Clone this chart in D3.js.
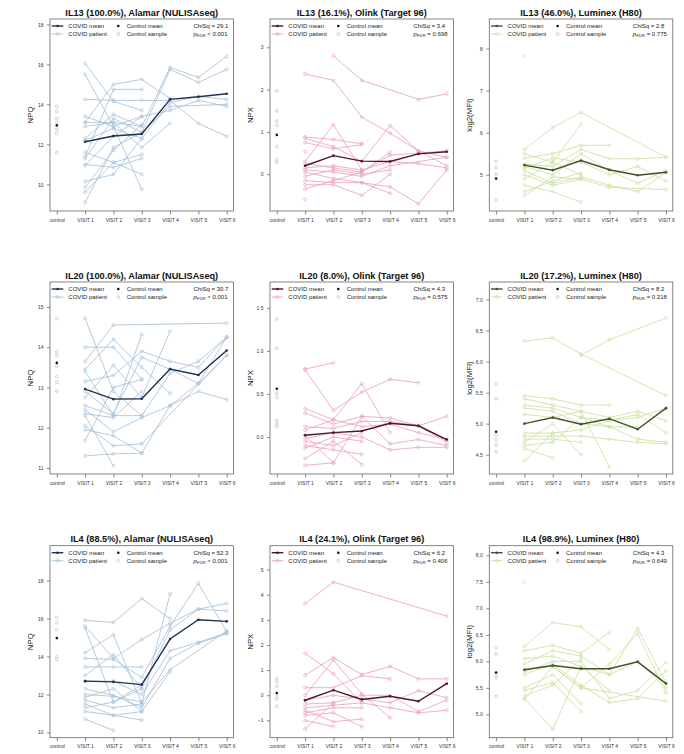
<!DOCTYPE html>
<html>
<head>
<meta charset="utf-8">
<script src="https://cdn.jsdelivr.net/npm/d3@7"></script>
<style>
  body { margin: 0; background: #fff; }
  text { font-family: "Liberation Sans", Arial, Helvetica, sans-serif; }
</style>
</head>
<body>
<svg id="chart" width="684" height="754"></svg>
<script>
// ---- shared axis categories ----
const visitLabels = ["control", "VISIT 1", "VISIT 2", "VISIT 3", "VISIT 4", "VISIT 5", "VISIT 6"];

// ---- panel titles / statistics ----
const titles = [
  "IL13 (100.0%), Alamar (NULISAseq)", "IL13 (16.1%), Olink (Target 96)", "IL13 (46.0%), Luminex (H80)",
  "IL20 (100.0%), Alamar (NULISAseq)", "IL20 (8.0%), Olink (Target 96)", "IL20 (17.2%), Luminex (H80)",
  "IL4 (88.5%), Alamar (NULISAseq)", "IL4 (24.1%), Olink (Target 96)", "IL4 (98.9%), Luminex (H80)"
];
const chiSq = ["29.1", "3.4", "2.8", "30.7", "4.3", "8.2", "52.3", "6.2", "4.3"];
const pFdr = ["< 0.001", "= 0.698", "= 0.775", "< 0.001", "= 0.575", "= 0.318", "< 0.001", "= 0.406", "= 0.649"];
const yTitles = ["NPQ", "NPX", "log2(MFI)"];

// ---- y-axis ticks per panel ----
const yTicks = [
  [10, 12, 14, 16, 18], [0, 1, 2, 3], [5, 6, 7, 8],
  [11, 12, 13, 14, 15], [0, 0.5, 1, 1.5], [4.5, 5, 5.5, 6, 6.5, 7],
  [10, 12, 14, 16, 18], [-1, 0, 1, 2, 3, 4, 5], [5, 5.5, 6, 6.5, 7, 7.5, 8]
];
const yTickDecimals = [0, 0, 0, 0, 1, 1, 0, 0, 1];
const yLimits = [
  [8.67, 18.27], [-0.87, 3.67], [4.14, 8.70],
  [10.85, 15.62], [-0.43, 1.80], [4.19, 7.28],
  [9.72, 19.84], [-1.69, 5.95], [4.56, 8.18]
];

// ---- IL13 ----
const il13AlamarPatients = [
  [16.05, 14.15, 13.7, null, null, null],
  [15.5, 12.9, 9.75, null, null, null],
  [14.25, 14.2, 14.2, 14.2, 13.05, 12.4],
  [13.1, 15.0, 15.25, 14.3, null, null],
  [11.4, 14.75, 14.75, null, null, null],
  [12.3, 13.5, 12.9, 15.85, 15.35, 16.4],
  [11.3, 13.3, 12.6, 15.75, 15.1, 15.75],
  [12.2, 12.8, 12.3, 14.1, 14.4, 14.25],
  [10.95, 12.4, 13.4, 13.7, 14.2, 13.9],
  [9.1, 11.85, 12.6, 13.9, null, 14.0],
  [12.9, 13.1, 11.85, 13.05, null, null],
  [11.6, 11.1, 11.5, null, null, null],
  [11.0, 10.85, 11.3, null, null, null],
  [10.15, 10.5, 12.3, null, null, null],
  [9.85, 11.7, 13.0, null, null, null],
  [9.6, 11.1, 10.5, null, null, null],
  [13.4, 12.9, 13.4, null, null, null],
  [13.1, 13.1, 12.9, null, null, null]
];
const il13AlamarMean = [12.13, 12.42, 12.52, 14.25, 14.38, 14.53];
const il13AlamarControls = [13.9, 13.65, 13.3, 13.1, 12.75, 12.55, 11.6];
const il13AlamarControlMean = 12.95;

const il13OlinkPatients = [
  [2.37, 2.22, 1.35, 0.97, 0.55, 0.2],
  [null, 2.8, 2.22, null, 1.77, 1.9],
  [0.88, 0.82, 0.72, null, null, null],
  [0.85, 0.65, 0.3, 1.15, 0.55, 0.4],
  [0.75, 0.6, 0.7, null, null, null],
  [0.53, null, null, null, null, null],
  [0.3, 1.17, 0.1, null, null, null],
  [0.25, 0.15, 0.05, 0.45, 0.5, 0.55],
  [0.15, 0.2, 0.1, 0.3, 0.25, 0.15],
  [0.1, 0.05, -0.05, 0.2, null, 0.4],
  [0.05, -0.1, -0.2, -0.3, -0.7, 0.1],
  [-0.05, 0.1, 0.0, 0.1, null, null],
  [-0.15, -0.2, -0.2, -0.45, null, null],
  [-0.25, -0.25, -0.5, 0.0, null, null],
  [-0.35, -0.15, 0.05, 0.52, null, null],
  [-0.6, null, null, null, null, null]
];
const il13OlinkMean = [0.2, 0.44, 0.31, 0.3, 0.48, 0.53];
const il13OlinkControls = [1.97, 1.5, 1.26, 1.16, 0.65, 0.35, 0.28];
const il13OlinkControlMean = 0.93;

const il13LuminexPatients = [
  [5.6, 6.12, 6.48, null, null, 5.42],
  [5.5, 5.3, 6.2, null, null, null],
  [5.4, 5.5, 5.7, 5.7, null, null],
  [5.25, 5.2, 5.6, 5.38, 5.38, 5.42],
  [5.2, 5.0, 5.5, 5.1, 4.8, 5.1],
  [5.15, 5.4, 5.3, 5.0, 5.2, 4.85],
  [5.1, 4.8, 4.95, 4.75, 4.6, 5.05],
  [5.0, 4.75, 4.9, 4.7, null, 4.65],
  [4.9, 5.3, 5.0, null, null, null],
  [4.75, 4.6, 4.35, null, null, null],
  [4.6, 4.85, 5.05, null, null, null],
  [4.5, 4.95, 4.9, null, null, null],
  [7.82, null, null, null, null, null]
];
const il13LuminexMean = [5.23, 5.11, 5.34, 5.12, 4.99, 5.06];
const il13LuminexControls = [5.32, 5.17, 5.02, 4.4];
const il13LuminexControlMean = 4.91;

// ---- IL20 ----
const il20AlamarPatients = [
  [14.72, 12.9, 12.3, null, null, null],
  [14.0, 14.0, 13.2, null, null, null],
  [13.65, 14.55, null, null, null, 14.6],
  [13.45, 14.2, 13.5, 12.85, null, null],
  [13.4, 12.3, 14.32, null, null, null],
  [13.15, 13.3, 13.9, 13.65, 13.5, 14.25],
  [12.9, 12.35, 13.75, 13.45, 13.1, 13.8],
  [12.75, 13.55, 12.75, 14.4, null, null],
  [12.55, 12.3, 12.3, 13.35, 13.65, 14.25],
  [12.45, 11.9, 12.25, 12.55, 12.9, 12.7],
  [12.35, 12.25, 12.9, null, null, null],
  [12.05, 11.55, 11.6, null, null, 13.8],
  [11.95, 11.8, 11.37, 12.55, 13.1, 14.25],
  [11.68, 13.0, 13.2, null, null, null],
  [11.3, 11.35, 11.37, null, null, null],
  [12.3, 11.05, null, null, null, null]
];
const il20AlamarMean = [12.96, 12.71, 12.72, 13.46, 13.31, 13.92];
const il20AlamarControls = [14.71, 13.89, 13.8, 13.53, 13.27, 13.13, 12.91];
const il20AlamarControlMean = 13.61;

const il20OlinkPatients = [
  [0.79, 0.86, null, null, null, null],
  [0.78, 0.31, 0.52, 0.67, 0.63, null],
  [0.33, 0.2, 0.62, 0.05, null, null],
  [0.28, 0.15, 0.24, 0.22, 0.13, -0.06],
  [0.12, 0.1, 0.18, 0.18, 0.13, 0.24],
  [0.08, 0.2, 0.12, 0.15, 0.05, -0.03],
  [0.02, -0.3, 0.24, -0.08, -0.03, -0.1],
  [-0.02, 0.05, 0.0, -0.15, -0.12, -0.12],
  [-0.05, -0.1, 0.05, null, null, null],
  [-0.1, -0.15, -0.2, null, null, null],
  [-0.13, 0.0, -0.05, null, null, null],
  [-0.25, -0.05, -0.32, null, null, null],
  [-0.33, -0.3, null, null, null, null]
];
const il20OlinkMean = [0.02, 0.05, 0.07, 0.16, 0.13, -0.03];
const il20OlinkControls = [1.37, 1.03, 0.51, 0.46, 0.19, 0.15, 0.12];
const il20OlinkControlMean = 0.56;

const il20LuminexPatients = [
  [6.33, 6.38, 6.12, null, null, 5.45],
  [null, null, 6.1, 6.35, null, 6.7],
  [5.45, 5.4, 5.3, 5.3, null, null],
  [5.4, 5.3, 5.2, 5.1, 5.2, 5.05],
  [5.3, 5.25, 5.1, 5.05, 5.1, 5.25],
  [5.25, 5.2, 5.0, 4.95, 4.75, 4.7],
  [5.15, 5.1, 5.2, 4.3, null, null],
  [4.85, 4.85, 4.9, 5.05, 5.15, 4.85],
  [4.8, 4.8, 4.8, 4.75, 4.7, 4.68],
  [4.75, 4.75, 4.7, null, null, null],
  [4.7, 5.0, 4.5, null, null, null],
  [4.65, 4.7, 5.1, 4.95, 4.95, null],
  [4.6, 4.45, null, null, null, null],
  [4.4, 4.85, null, null, null, null]
];
const il20LuminexMean = [5.0, 5.1, 4.99, 5.08, 4.91, 5.25];
const il20LuminexControls = [5.64, 5.40, 4.82, 4.74, 4.66, 4.55];
const il20LuminexControlMean = 4.87;

// ---- IL4 ----
const il4AlamarPatients = [
  [15.9, 15.8, 17.05, 16.0, null, null],
  [15.6, 13.9, 14.9, 15.75, 16.5, 16.4],
  [15.5, 11.6, 12.5, null, null, null],
  [14.2, 15.15, 11.5, 17.3, null, null],
  [13.9, 13.85, 12.9, 15.6, 17.85, 15.3],
  [13.45, 13.45, 13.45, null, null, null],
  [13.0, 14.1, 12.3, 15.4, 16.5, 16.8],
  [12.7, 12.7, 12.0, 14.3, 14.75, 15.25],
  [12.3, 11.95, 11.3, 13.9, 14.7, 15.2],
  [12.0, 11.9, 11.6, 13.3, null, 15.35],
  [11.85, 12.3, 11.1, 13.2, null, null],
  [11.7, 11.3, 11.5, null, null, null],
  [11.5, 10.9, 11.1, null, null, null],
  [11.3, 11.6, 12.3, null, null, null],
  [11.1, 10.9, 10.65, null, null, null],
  [10.7, 10.1, null, null, null, null]
];
const il4AlamarMean = [12.7, 12.66, 12.52, 14.92, 15.94, 15.85];
const il4AlamarControls = [16.06, 15.78, 15.41, 14.0, 13.84];
const il4AlamarControlMean = 14.97;

const il4OlinkPatients = [
  [3.65, 4.5, null, null, null, 3.15],
  [1.67, 0.85, -0.3, null, null, null],
  [0.8, 1.5, 0.82, 1.15, 0.65, 0.65],
  [0.3, 0.3, 0.78, 0.65, null, null],
  [0.0, 1.4, 0.05, -0.9, null, null],
  [-0.2, 0.0, -0.15, -0.3, 0.18, -0.1],
  [-0.35, -0.3, 0.0, 0.0, -0.65, -0.2],
  [-0.5, -0.4, -0.3, -0.5, -0.7, -0.6],
  [-0.6, -1.05, -0.95, null, null, null],
  [-0.7, -0.5, -0.5, null, null, null],
  [-0.8, -0.7, -1.25, null, null, null],
  [-1.0, -1.25, null, null, null, null],
  [-1.35, -0.3, null, null, null, null]
];
const il4OlinkMean = [-0.2, 0.2, -0.17, -0.04, -0.24, 0.46];
const il4OlinkControls = [0.66, 0.53, 0.36, -0.04, -0.15, -0.44];
const il4OlinkControlMean = 0.09;

const il4LuminexPatients = [
  [7.49, null, null, null, null, null],
  [6.28, 6.73, 6.65, 6.22, null, null],
  [6.2, 6.3, 6.15, 6.55, null, null],
  [6.05, 6.1, 5.9, 5.45, null, null],
  [5.95, 6.2, 6.1, 5.75, 6.62, 5.6],
  [5.85, 5.9, 5.5, 5.95, 6.52, 5.4],
  [5.8, 6.0, 6.0, 5.3, 5.45, 5.98],
  [5.75, 5.95, 5.55, 5.22, 5.3, 5.82],
  [5.5, 5.75, 5.2, null, null, null],
  [5.45, 5.6, 5.05, null, null, null],
  [5.35, 5.55, 6.05, null, null, null],
  [5.3, 4.72, 5.9, 5.75, 6.0, 5.5],
  [5.28, 5.9, 5.5, null, null, 5.25]
];
const il4LuminexMean = [5.84, 5.92, 5.86, 5.86, 5.99, 5.58];
const il4LuminexControls = [6.26, 6.14, 5.75, 5.69, 5.34];
const il4LuminexControlMean = 5.79;

// ---- platform colours (patient line, mean line) ----
const patientColors = ["#a5bfd6", "#eaa0b6", "#cbdf9e"];
const meanColors = ["#1d3350", "#4e1529", "#42522a"];

const patientSets = [
  il13AlamarPatients, il13OlinkPatients, il13LuminexPatients,
  il20AlamarPatients, il20OlinkPatients, il20LuminexPatients,
  il4AlamarPatients, il4OlinkPatients, il4LuminexPatients
];
const meanSets = [
  il13AlamarMean, il13OlinkMean, il13LuminexMean,
  il20AlamarMean, il20OlinkMean, il20LuminexMean,
  il4AlamarMean, il4OlinkMean, il4LuminexMean
];
const controlSets = [
  il13AlamarControls, il13OlinkControls, il13LuminexControls,
  il20AlamarControls, il20OlinkControls, il20LuminexControls,
  il4AlamarControls, il4OlinkControls, il4LuminexControls
];
const controlMeans = [
  il13AlamarControlMean, il13OlinkControlMean, il13LuminexControlMean,
  il20AlamarControlMean, il20OlinkControlMean, il20LuminexControlMean,
  il4AlamarControlMean, il4OlinkControlMean, il4LuminexControlMean
];

// ---- layout ----
const colLeft = [50, 270, 489.3];
const rowTop = [19, 282, 545.7];
const boxW = 183.5, boxH = 192;

const svg = d3.select("#chart");

titles.forEach((title, i) => {
  const row = Math.floor(i / 3), col = i % 3;
  const left = colLeft[col], top = rowTop[row];
  const g = svg.append("g");

  const x = d3.scaleLinear().domain([-0.24, 6.24]).range([left, left + boxW]);
  const y = d3.scaleLinear().domain(yLimits[i]).range([top + boxH, top]);
  const pCol = patientColors[col], mCol = meanColors[col];

  // title
  g.append("text")
    .attr("x", left + boxW / 2).attr("y", top - 3.5)
    .attr("text-anchor", "middle")
    .attr("font-size", 9.2).attr("font-weight", "bold").attr("fill", "#111")
    .text(title);

  // x axis
  const xAxis = d3.axisBottom(x)
    .tickValues(d3.range(7))
    .tickFormat(d => visitLabels[d])
    .tickSize(3.5).tickPadding(3.5);
  const xa = g.append("g").attr("transform", `translate(0,${top + boxH})`).call(xAxis);
  xa.select(".domain").remove();
  xa.selectAll("line").attr("stroke", "#555").attr("stroke-width", 0.7);
  xa.selectAll("text").attr("font-size", 5).attr("fill", "#333")
    .attr("font-family", "'Liberation Sans', Arial, sans-serif");

  // y axis
  const yAxis = d3.axisLeft(y)
    .tickValues(yTicks[i])
    .tickFormat(d3.format(`.${yTickDecimals[i]}f`))
    .tickSize(3).tickPadding(3.5);
  const ya = g.append("g").attr("transform", `translate(${left},0)`).call(yAxis);
  ya.select(".domain").remove();
  ya.selectAll("line").attr("stroke", "#555").attr("stroke-width", 0.7);
  ya.selectAll("text").attr("font-size", 5).attr("fill", "#333")
    .attr("font-family", "'Liberation Sans', Arial, sans-serif");

  // y-axis title
  g.append("text")
    .attr("transform", `translate(${left - 17},${top + boxH / 2}) rotate(-90)`)
    .attr("text-anchor", "middle")
    .attr("font-size", 7.8).attr("fill", "#111")
    .text(yTitles[col]);

  // box
  g.append("rect")
    .attr("x", left).attr("y", top).attr("width", boxW).attr("height", boxH)
    .attr("fill", "none").attr("stroke", "#666").attr("stroke-width", 0.8);

  // patient trajectories (lines jump over missed visits)
  const line = d3.line().x(d => x(d.v)).y(d => y(d.val));
  patientSets[i].forEach(p => {
    const pts = p.map((val, k) => ({ v: k + 1, val })).filter(d => d.val !== null);
    g.append("path").datum(pts)
      .attr("d", line).attr("fill", "none")
      .attr("stroke", pCol).attr("stroke-width", 0.9).attr("opacity", 0.9);
    g.selectAll(null).data(pts).enter().append("circle")
      .attr("cx", d => x(d.v)).attr("cy", d => y(d.val)).attr("r", 1.5)
      .attr("fill", "none").attr("stroke", pCol).attr("stroke-width", 0.6);
  });

  // control samples and their mean
  g.selectAll(null).data(controlSets[i]).enter().append("circle")
    .attr("cx", x(0)).attr("cy", d => y(d)).attr("r", 1.4)
    .attr("fill", "none").attr("stroke", "#b5b5b5").attr("stroke-width", 0.6);
  g.append("circle").attr("cx", x(0)).attr("cy", y(controlMeans[i])).attr("r", 1.3)
    .attr("fill", "#111");

  // COVID mean trajectory
  const mPts = meanSets[i].map((val, k) => ({ v: k + 1, val }));
  g.append("path").datum(mPts).attr("d", line).attr("fill", "none")
    .attr("stroke", mCol).attr("stroke-width", 1.4);
  g.selectAll(null).data(mPts).enter().append("circle")
    .attr("cx", d => x(d.v)).attr("cy", d => y(d.val)).attr("r", 1.3)
    .attr("fill", mCol);

  // legend
  const ly1 = top + 7, ly2 = top + 15;
  const lg = g.append("g").attr("font-size", 6).attr("fill", "#222");
  lg.append("line").attr("x1", left + 1.7).attr("x2", left + 13.3).attr("y1", ly1).attr("y2", ly1)
    .attr("stroke", mCol).attr("stroke-width", 1.4);
  lg.append("circle").attr("cx", left + 7.5).attr("cy", ly1).attr("r", 1.3).attr("fill", mCol);
  lg.append("line").attr("x1", left + 1.7).attr("x2", left + 13.3).attr("y1", ly2).attr("y2", ly2)
    .attr("stroke", pCol).attr("stroke-width", 0.9);
  lg.append("circle").attr("cx", left + 7.5).attr("cy", ly2).attr("r", 1.5)
    .attr("fill", "none").attr("stroke", pCol).attr("stroke-width", 0.6);
  lg.append("text").attr("x", left + 18.3).attr("y", ly1 + 2).text("COVID mean");
  lg.append("text").attr("x", left + 18.3).attr("y", ly2 + 2).text("COVID patient");
  lg.append("circle").attr("cx", left + 68.3).attr("cy", ly1).attr("r", 1.3).attr("fill", "#111");
  lg.append("circle").attr("cx", left + 68.3).attr("cy", ly2).attr("r", 1.4)
    .attr("fill", "none").attr("stroke", "#b5b5b5").attr("stroke-width", 0.6);
  lg.append("text").attr("x", left + 76.7).attr("y", ly1 + 2).text("Control mean");
  lg.append("text").attr("x", left + 76.7).attr("y", ly2 + 2).text("Control sample");

  // statistics
  lg.append("text").attr("x", left + boxW - 40).attr("y", ly1 + 2).text(`ChiSq = ${chiSq[i]}`);
  const pt = lg.append("text").attr("x", left + boxW - 40).attr("y", ly2 + 2);
  pt.append("tspan").attr("font-style", "italic").text("p");
  pt.append("tspan").attr("font-size", 4.3).attr("dy", 1.2).text("FDR");
  pt.append("tspan").attr("dy", -1.2).text(` ${pFdr[i]}`);
});
</script>
</body>
</html>
